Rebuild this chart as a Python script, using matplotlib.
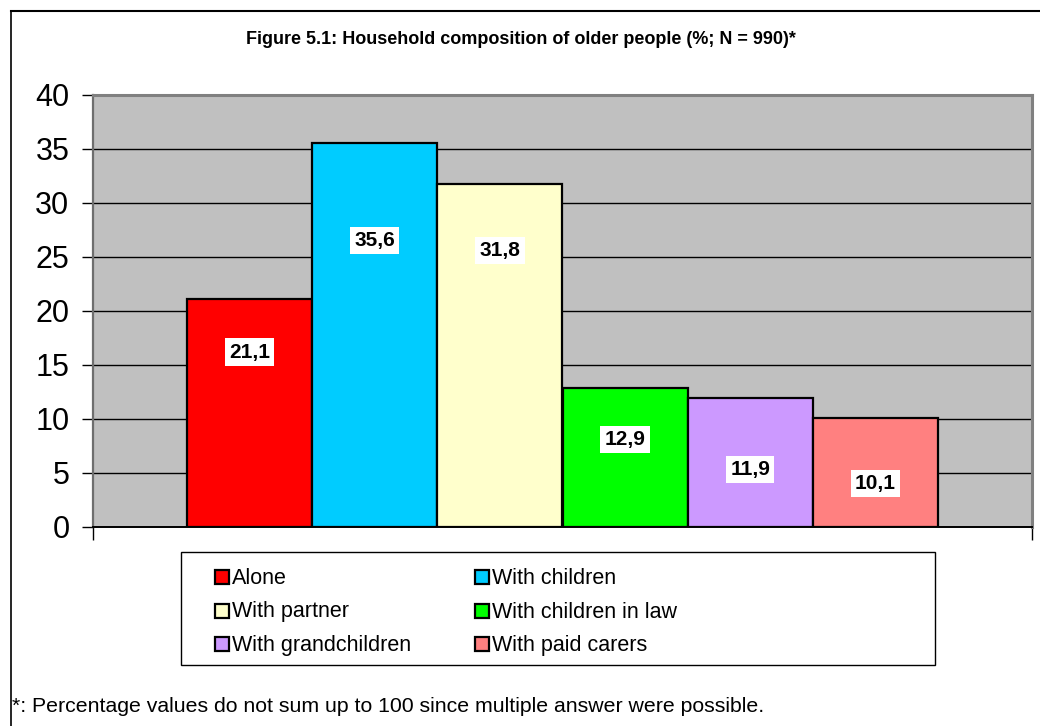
import matplotlib
matplotlib.use("Agg")
import matplotlib.pyplot as plt
from matplotlib.patches import Rectangle
from matplotlib.lines import Line2D
import numpy as np

plt.rcParams["font.family"] = ["Liberation Sans", "DejaVu Sans"]

# Household composition shares (%)
categories = ["Alone", "With children", "With partner", "With children in law",
              "With grandchildren", "With paid carers"]
values = [21.1, 35.6, 31.8, 12.9, 11.9, 10.1]
value_labels = ["21,1", "35,6", "31,8", "12,9", "11,9", "10,1"]
label_heights = [16.2, 26.5, 25.6, 8.1, 5.3, 4.0]
colors = ["#FF0000", "#00CCFF", "#FFFFCC", "#00FF00", "#CC99FF", "#FF8080"]
yticks = [0, 5, 10, 15, 20, 25, 30, 35, 40]

W, H = 1040, 726
fig = plt.figure(figsize=(W / 100, H / 100), dpi=100)

def fx(px):
    return px / W

def fy(py):
    return 1 - py / H

# outer chart frame (top and left edges)
fig.add_artist(Line2D([fx(11), fx(11)], [fy(11), 0], transform=fig.transFigure,
                      color="black", lw=1.2))
fig.add_artist(Line2D([fx(11), 1], [fy(11), fy(11)], transform=fig.transFigure,
                      color="black", lw=1.5))

ax = fig.add_axes([fx(93), fy(527), fx(1032) - fx(93), fy(95) - fy(527)])
ax.set_facecolor("#C0C0C0")

n = len(values)
group = 0.8
bw = group / n
xs = (1 - group) / 2 + bw * (np.arange(n) + 0.5)
ax.bar(xs, values, width=bw, color=colors, edgecolor="black", linewidth=1.6, zorder=3)

for x, lab, ly in zip(xs, value_labels, label_heights):
    ax.text(x, ly, lab, ha="center", va="center", fontsize=15, fontweight="bold",
            zorder=5, bbox=dict(facecolor="white", edgecolor="none", pad=3))

ax.set_xlim(0, 1)
ax.set_ylim(0, 40)
ax.set_yticks(yticks)
ax.set_yticklabels([str(t) for t in yticks], fontsize=22)
ax.set_xticks([0, 1])
ax.set_xticklabels([])
ax.tick_params(axis="y", direction="out", length=8, width=1, pad=9)
ax.tick_params(axis="x", direction="out", length=9, width=1)
ax.grid(axis="y", color="black", lw=1, zorder=1)
ax.set_axisbelow(True)

for side in ("top", "right"):
    ax.spines[side].set_color("#808080")
    ax.spines[side].set_linewidth(2.2)
ax.spines["left"].set_color("#6E6E6E")
ax.spines["left"].set_linewidth(1.6)
ax.spines["bottom"].set_color("black")
ax.spines["bottom"].set_linewidth(1.4)

# title
fig.text(fx(521), fy(40), "Figure 5.1: Household composition of older people (%; N = 990)*",
         ha="center", va="center", fontsize=13, fontweight="bold")

# legend box
fig.add_artist(Rectangle((fx(181), fy(665)), fx(935) - fx(181), fy(552) - fy(665),
                         transform=fig.transFigure, facecolor="white",
                         edgecolor="black", lw=1))
col_x = [215, 475]
row_y = [577, 611, 644]
sq = 14
for i, (lab, c) in enumerate(zip(categories, colors)):
    cx = col_x[i % 2]
    cy = row_y[i // 2]
    fig.add_artist(Rectangle((fx(cx), fy(cy + sq / 2)), fx(sq), fy(0) - fy(sq),
                             transform=fig.transFigure, facecolor=c,
                             edgecolor="black", lw=1.6))
    fig.text(fx(cx + sq + 3), fy(cy + 1), lab, ha="left", va="center", fontsize=15.5)

# footnote
fig.text(fx(12), fy(706),
         "*: Percentage values do not sum up to 100 since multiple answer were possible.",
         ha="left", va="center", fontsize=15.3)

fig.savefig("out.png", dpi=100)
